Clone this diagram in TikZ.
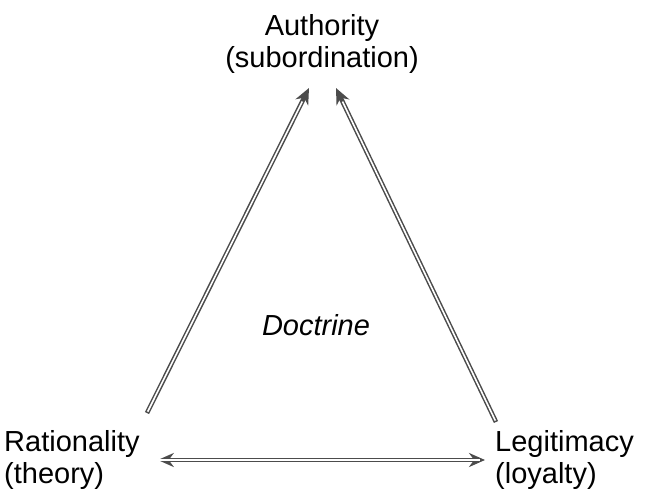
\documentclass[tikz,border=0pt]{standalone}
\usepackage{fontspec}
\setmainfont{Liberation Sans}
\usetikzlibrary{arrows.meta}
\begin{document}
\begin{tikzpicture}
  [x=1pt,y=-1pt,every node/.style={font=\fontsize{29}{32}\selectfont,inner sep=0pt},
   link/.style={draw=black!70,line width=4.6pt,-{Stealth[length=16pt,width=14pt]},
     postaction={draw=white,line width=1.6pt,-,shorten >=15pt,shorten <=1.5pt}}]
  \useasboundingbox (0,0) rectangle (649,498);
  \node[align=center] (auth) at (322,44) {Authority\\(subordination)};
  \node[align=left,anchor=west] (rat) at (4,460) {Rationality\\(theory)};
  \node[align=left,anchor=west] (leg) at (495,460) {Legitimacy\\(loyalty)};
  \node[font=\fontsize{29}{32}\selectfont\itshape] (doc) at (316,325) {Doctrine};
  \coordinate (r1) at (147,413);
  \coordinate (a1) at (309,88);
  \coordinate (l1) at (496,422);
  \coordinate (a2) at (336,88);

  \foreach \from/\to in {r1/a1,l1/a2}
    \draw[link] (\from) -- (\to);
  \draw[link,{Stealth[length=16pt,width=14pt]}-{Stealth[length=16pt,width=14pt]},
    shorten <=18pt,shorten >=10pt,
    postaction={draw=white,line width=1.6pt,-,shorten <=33pt,shorten >=25pt}]
    (rat.east) -- (leg.west);

\end{tikzpicture}
\end{document}
